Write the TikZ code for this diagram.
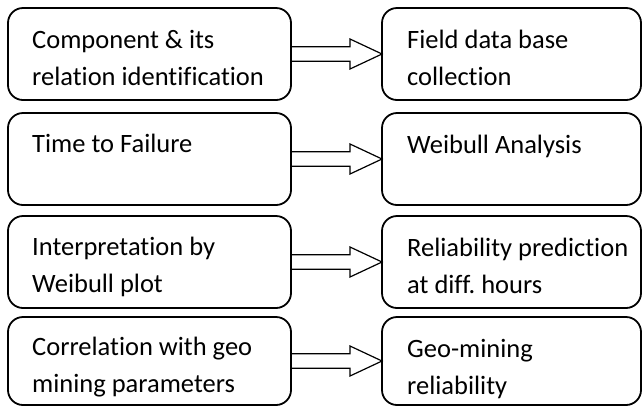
\documentclass[tikz,border=0pt]{standalone}
\usepackage{fontspec}
\setmainfont[Ligatures=CommonOff]{Carlito}
\usetikzlibrary{positioning}

\tikzset{
    stagebox/.style={draw, line width=1.8pt, rounded corners=15pt, anchor=north west,
        inner sep=0pt, outer sep=0pt},
    stagetext/.style={inner sep=0pt, align=left, font=\fontsize{26.5}{37}\selectfont\frenchspacing},
    blockarrow/.style={line width=1.2pt, line join=miter}
}

\begin{document}
\begin{tikzpicture}[x=1pt, y=-1pt]
            % the frame
            \useasboundingbox (0,0) rectangle (644,408);
            % the boxes and the arrows between them
            \foreach \n/\y/\h in {1/8/92, 2/113/92, 3/216/92, 4/317/88} {
                \node[stagebox, minimum width=283pt, minimum height=\h pt] (l\n) at (8,\y) {};
                \node[stagebox, minimum width=259pt, minimum height=\h pt] (r\n) at (382,\y) {};
                \draw[blockarrow] (l\n.east) ++(0,-7.3) -- ++(59,0) -- ++(0,-7.7)
                    -- (r\n.west) -- ++(-32,15) -- ++(0,-7.7) -- ++(-59,0);
            };

            % labels
            \node[stagetext, below right=14pt and 24pt of l1.north west] (lt1) {\strut Component \& its\\relation identification};
            \node[stagetext, below right=14pt and 25pt of r1.north west] (rt1) {\strut Field data base\\collection};
            \node[stagetext, below right=13pt and 24pt of l2.north west] (lt2) {\strut Time to Failure};
            \node[stagetext, below right=14pt and 25pt of r2.north west] (rt2) {\strut Weibull Analysis};
            \node[stagetext, below right=13pt and 24pt of l3.north west] (lt3) {\strut Interpretation by\\Weibull plot};
            \node[stagetext, below right=14pt and 25pt of r3.north west] (rt3) {\strut Reliability prediction\\at diff. hours};
            \node[stagetext, below right=12pt and 24pt of l4.north west] (lt4) {\strut Correlation with geo\\mining parameters};
            \node[stagetext, below right=14pt and 25pt of r4.north west] (rt4) {\strut Geo-mining\\reliability};
\end{tikzpicture}
\end{document}
